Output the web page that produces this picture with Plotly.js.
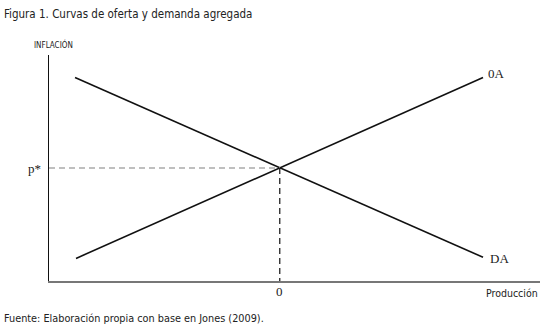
<!DOCTYPE html>
<html>
<head>
<meta charset="utf-8">
<script src="https://cdn.plot.ly/plotly-3.0.1.min.js"></script>
<style>html,body{margin:0;padding:0;background:#fff;}#chart{width:545px;height:327px;}</style>
</head>
<body>
<div id="chart"></div>
<script>
// Curves (arbitrary units)
const oaX = [0.55, 8.84];
const oaY = [1.0, 9.0];
const daX = [0.53, 8.84];
const daY = [9.0, 1.05];
const eqX = 4.70;   // equilibrium production "0"
const eqY = 5.0;    // equilibrium inflation "p*"
const curveLabels = ["0A", "DA"];

const narrow = '"Liberation Sans Narrow", "DejaVu Sans Condensed", "Roboto Condensed", sans-serif';
const serif = '"Liberation Serif", "DejaVu Serif", serif';

const traces = [
  {x: oaX, y: oaY, mode: 'lines', line: {color: '#111', width: 1.6}, hoverinfo: 'skip'},
  {x: daX, y: daY, mode: 'lines', line: {color: '#111', width: 1.6}, hoverinfo: 'skip'},
  {x: [0, eqX], y: [eqY, eqY], mode: 'lines', line: {color: '#aaa', width: 1.5, dash: '6px,4px'}, hoverinfo: 'skip'},
  {x: [eqX, eqX], y: [eqY, 0], mode: 'lines', line: {color: '#111', width: 1.2, dash: '6px,4px'}, hoverinfo: 'skip'}
];

const layout = {
  width: 545, height: 327,
  margin: {l: 49, r: 5, t: 55, b: 46},
  paper_bgcolor: '#fff', plot_bgcolor: '#fff',
  showlegend: false,
  xaxis: {range: [0, 10], showgrid: false, zeroline: false, showticklabels: false, ticks: '',
          showline: true, linecolor: '#777', linewidth: 1.5, fixedrange: true},
  yaxis: {range: [0, 10], showgrid: false, zeroline: false, showticklabels: false, ticks: '',
          showline: true, linecolor: '#111', linewidth: 1.5, fixedrange: true},
  annotations: [
    {text: 'Figura 1. Curvas de oferta y demanda agregada', xref: 'paper', yref: 'paper',
     x: -49/491 + 2/491, y: 1 + 55/226 - 14/226, xanchor: 'left', yanchor: 'middle', showarrow: false,
     font: {family: narrow, size: 11.5, color: '#222'}},
    {text: 'INFLACIÓN', xref: 'paper', yref: 'paper', x: -17/491, y: 1 + 11/226,
     xanchor: 'left', yanchor: 'middle', showarrow: false, font: {family: narrow, size: 8, color: '#222'}},
    {text: 'p*', xref: 'paper', yref: 'y', x: 0, y: eqY, xanchor: 'right', yanchor: 'middle', xshift: -6,
     showarrow: false, font: {family: serif, size: 13, color: '#222'}},
    {text: '0', xref: 'x', yref: 'paper', x: eqX, y: 0, xanchor: 'center', yanchor: 'top', yshift: -1,
     showarrow: false, font: {family: serif, size: 13, color: '#222'}},
    {text: 'Producción', xref: 'paper', yref: 'paper', x: 1, y: 0, xanchor: 'right', yanchor: 'top', yshift: -4,
     showarrow: false, font: {family: narrow, size: 10.5, color: '#222'}},
    {text: curveLabels[0], xref: 'x', yref: 'y', x: oaX[1], y: oaY[1], xanchor: 'left', yanchor: 'middle',
     xshift: 3, yshift: 4, showarrow: false, font: {family: serif, size: 13, color: '#222'}},
    {text: curveLabels[1], xref: 'x', yref: 'y', x: daX[1], y: daY[1], xanchor: 'left', yanchor: 'middle',
     xshift: 5, yshift: -1, showarrow: false, font: {family: serif, size: 13, color: '#222'}},
    {text: 'Fuente: Elaboración propia con base en Jones (2009).', xref: 'paper', yref: 'paper',
     x: -49/491 + 2/491, y: -37/226, xanchor: 'left', yanchor: 'middle', showarrow: false,
     font: {family: narrow, size: 10.8, color: '#222'}}
  ]
};

Plotly.newPlot('chart', traces, layout, {displayModeBar: false, staticPlot: true});
</script>
</body>
</html>
